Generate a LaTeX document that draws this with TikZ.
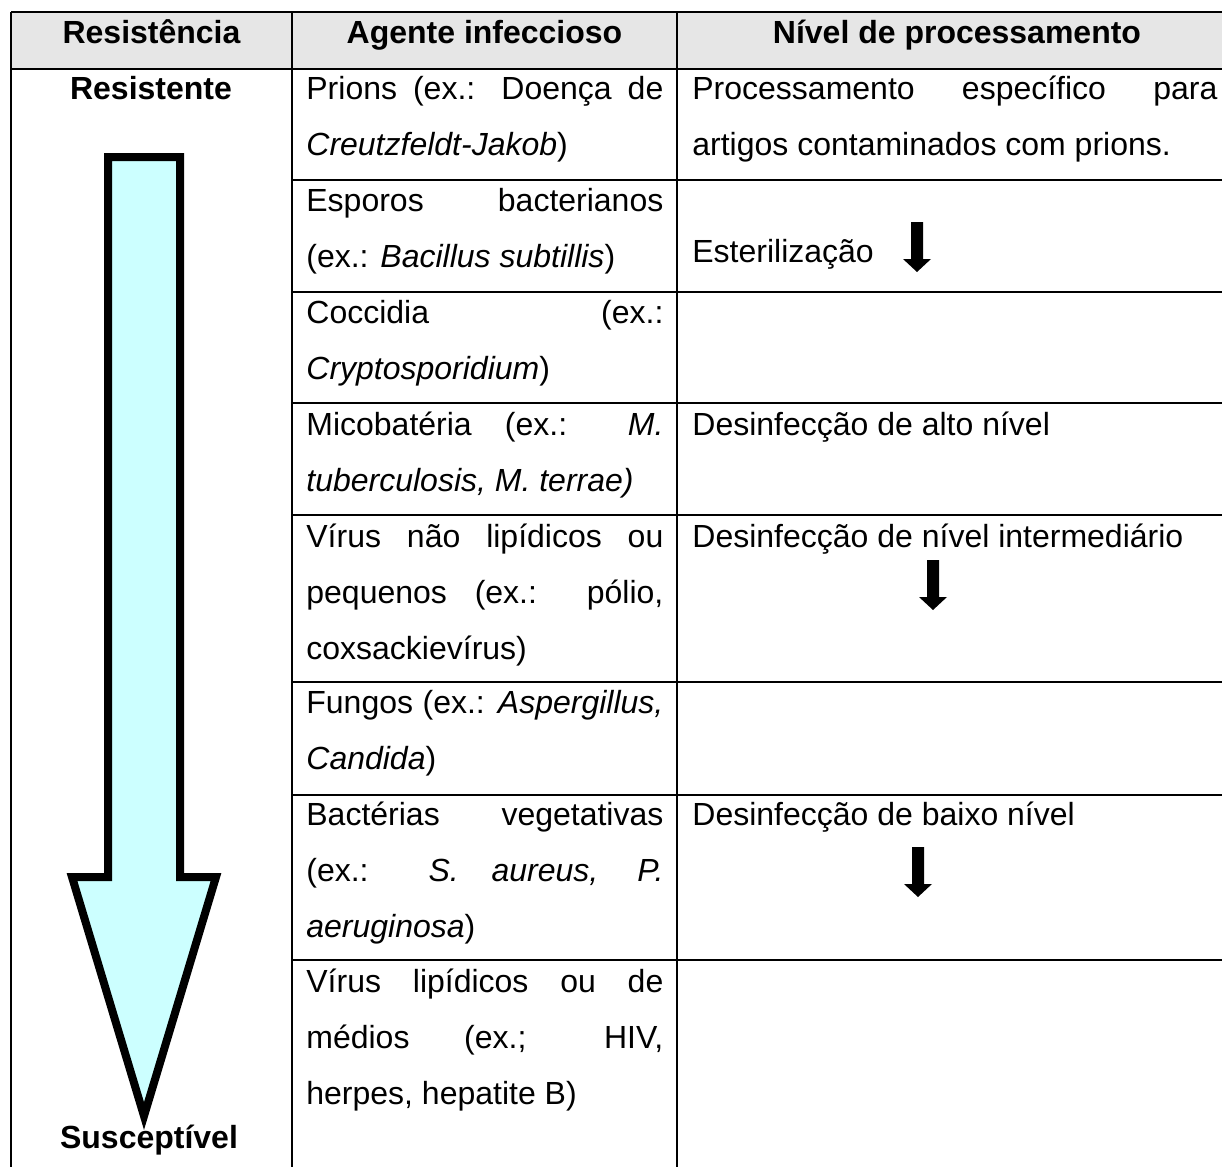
\documentclass[tikz,border=0pt]{standalone}
\usepackage{fontspec}
\setmainfont{Liberation Sans}
\definecolor{headgray}{HTML}{E6E6E6}
\definecolor{arrowcyan}{HTML}{CCFFFF}
\tolerance=10000
\hbadness=10000

\begin{document}
\begin{tikzpicture}[x=0.5pt,y=-0.5pt]
\tikzstyle{tabline}=[line width=1pt,draw=black]
\tikzstyle{head}=[inner sep=0pt,anchor=base,font=\fontsize{16}{28}\selectfont\bfseries]
\tikzstyle{agent}=[inner sep=0pt,anchor=base west,text width=178.5pt,align=justify,font=\fontsize{16}{28}\selectfont]
\tikzstyle{level}=[inner sep=0pt,anchor=base west,text width=262.5pt,align=justify,font=\fontsize{16}{28}\selectfont]
\tikzset{dnarrow/.pic={\fill (-6,0) -- (6,0) -- (6,37) -- (14,37) -- (0,50) -- (-14,37) -- (-6,37) -- cycle;}}

\useasboundingbox (0,0) rectangle (1222,1167);

% table
\fill[headgray] (11,12) rectangle (1240,69);
\draw[tabline] (11,12) -- (1240,12);
\draw[tabline] (11,69) -- (1240,69);
\draw[tabline] (11,12) -- (11,1180);
\draw[tabline] (292,12) -- (292,1180);
\draw[tabline] (677,12) -- (677,1180);
\foreach \y in {180,292,403,515,682,795,960}
  \draw[tabline] (292,\y) -- (1240,\y);

% header
\node[head]		(hResist) at (151.5,43) {Resistência};
\node[head]		(hAgente) at (484.5,43) {Agente infeccioso};
\node[head]		(hNivel)  at (957,43)   {Nível de processamento};

% resistance arrow
\node[head]		(rTop)    at (151,99)   {Resistente};
\node[head]		(rBottom) at (149,1148) {Susceptível};
\filldraw[fill=arrowcyan,line width=4pt,line join=miter]
  (108,157) -- (180,157) -- (180,877) -- (216,877) -- (144,1116) -- (72,877) -- (108,877) -- cycle;

% agents
\node[agent]	(ag1) at (306,99)  {Prions (ex.: Doença de\linebreak \textit{Creutzfeldt-Jakob})};
\node[agent]	(ag2) at (306,211) {Esporos bacterianos\linebreak (ex.: \textit{Bacillus subtillis})};
\node[agent]	(ag3) at (306,323) {Coccidia (ex.:\linebreak \textit{Cryptosporidium})};
\node[agent]	(ag4) at (306,435) {Micobatéria (ex.: \textit{M.}\linebreak \textit{tuberculosis, M. terrae)}};
\node[agent]	(ag5) at (306,547) {Vírus não lipídicos ou\linebreak pequenos (ex.: pólio,\linebreak coxsackievírus)};
\node[agent]	(ag6) at (306,713) {Fungos (ex.: \textit{Aspergillus,}\linebreak \textit{Candida})};
\node[agent]	(ag7) at (306,825) {Bactérias vegetativas\linebreak (ex.: \textit{S. aureus, P.}\linebreak \textit{aeruginosa})};
\node[agent]	(ag8) at (306,992) {Vírus lipídicos ou de\linebreak médios (ex.; HIV,\linebreak herpes, hepatite B)};

% levels
\node[level]	(nv1) at (692,99)  {Processamento específico para\linebreak artigos contaminados com prions.};
\node[level]	(nv2) at (692,262) {Esterilização};
\node[level]	(nv3) at (692,435) {Desinfecção de alto nível};
\node[level]	(nv4) at (692,547) {Desinfecção de nível intermediário};
\node[level]	(nv5) at (692,825) {Desinfecção de baixo nível};

\pic at (917,222) {dnarrow};
\pic at (933,560) {dnarrow};
\pic at (918,847) {dnarrow};
\end{tikzpicture}
\end{document}
